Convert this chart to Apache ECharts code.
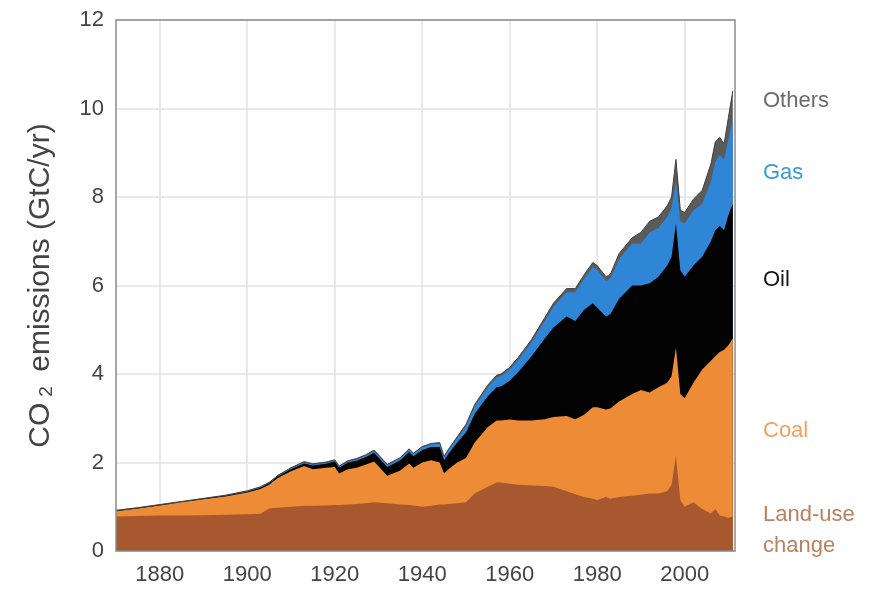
<!DOCTYPE html>
<html>
<head>
<meta charset="utf-8">
<title>CO2 emissions</title>
<script src="https://cdn.jsdelivr.net/npm/echarts@6/dist/echarts.min.js"></script>
<style>
  html, body { margin: 0; padding: 0; background: #fff; }
  #chart { width: 881px; height: 592px; }
</style>
</head>
<body>
<div id="chart"></div>
<script>
// years (irregular steps, denser where the curve moves)
const years = [1870, 1875, 1880, 1885, 1890, 1895, 1900, 1903, 1905, 1907, 1910, 1913, 1915, 1918, 1920,
  1921, 1923, 1925, 1927, 1929, 1932, 1935, 1937, 1938, 1940, 1942, 1944, 1945, 1946, 1948,
  1950, 1952, 1955, 1957, 1958, 1960, 1962, 1965, 1968, 1970, 1973, 1975, 1977, 1979, 1980,
  1982, 1983, 1985, 1988, 1990, 1992, 1994, 1996, 1997, 1998, 1999, 2000, 2002, 2004, 2006,
  2007, 2008, 2009, 2010, 2011];

// upper edge of each band (cumulative GtC/yr)
const landUseTop = [.78, .79, .80, .80, .81, .82, .83, .84, .96, .98, 1.00, 1.02, 1.02, 1.03, 1.04,
  1.04, 1.05, 1.06, 1.08, 1.10, 1.08, 1.05, 1.04, 1.03, 1.00, 1.02, 1.05, 1.05, 1.06, 1.08,
  1.10, 1.30, 1.45, 1.55, 1.55, 1.52, 1.50, 1.48, 1.47, 1.45, 1.35, 1.28, 1.22, 1.18, 1.15,
  1.22, 1.18, 1.22, 1.25, 1.27, 1.30, 1.30, 1.35, 1.50, 2.15, 1.15, 1.00, 1.10, 0.95, 0.85,
  0.95, 0.80, 0.78, 0.75, 0.78];
const coalTop = [.90, .96, 1.03, 1.10, 1.17, 1.23, 1.32, 1.40, 1.50, 1.65, 1.80, 1.92, 1.85, 1.88, 1.90,
  1.75, 1.85, 1.88, 1.95, 2.02, 1.70, 1.82, 1.98, 1.88, 2.00, 2.05, 2.00, 1.75, 1.85, 2.00,
  2.10, 2.45, 2.80, 2.95, 2.95, 2.97, 2.95, 2.95, 2.98, 3.03, 3.05, 2.98, 3.08, 3.25, 3.25,
  3.20, 3.22, 3.38, 3.55, 3.64, 3.58, 3.70, 3.80, 3.95, 4.60, 3.55, 3.45, 3.80, 4.10, 4.30,
  4.40, 4.50, 4.55, 4.65, 4.80];
const oilTop = [.91, .97, 1.04, 1.11, 1.18, 1.25, 1.34, 1.43, 1.53, 1.69, 1.85, 1.98, 1.93, 1.97, 2.02,
  1.88, 2.00, 2.04, 2.12, 2.22, 1.90, 2.05, 2.24, 2.14, 2.28, 2.35, 2.35, 2.05, 2.20, 2.45,
  2.68, 3.10, 3.50, 3.70, 3.72, 3.85, 4.05, 4.40, 4.80, 5.05, 5.30, 5.20, 5.45, 5.60, 5.50,
  5.30, 5.35, 5.70, 6.00, 6.00, 6.05, 6.20, 6.45, 6.65, 7.40, 6.35, 6.20, 6.45, 6.65, 7.00,
  7.25, 7.35, 7.25, 7.60, 7.85];
const gasTop = [.91, .97, 1.04, 1.11, 1.18, 1.25, 1.35, 1.44, 1.54, 1.70, 1.86, 2.00, 1.95, 1.99, 2.04,
  1.90, 2.02, 2.07, 2.15, 2.26, 1.94, 2.09, 2.29, 2.19, 2.34, 2.41, 2.42, 2.12, 2.28, 2.55,
  2.82, 3.27, 3.70, 3.92, 3.95, 4.10, 4.32, 4.72, 5.20, 5.52, 5.85, 5.85, 6.15, 6.42, 6.35,
  6.10, 6.15, 6.60, 6.95, 6.95, 7.20, 7.30, 7.55, 7.75, 8.35, 7.45, 7.40, 7.70, 7.85, 8.35,
  8.80, 8.95, 8.85, 9.30, 9.75];
const othersTop = [.92, .98, 1.05, 1.12, 1.19, 1.26, 1.36, 1.45, 1.55, 1.71, 1.88, 2.02, 1.97, 2.01, 2.06,
  1.92, 2.04, 2.09, 2.17, 2.28, 1.96, 2.11, 2.31, 2.21, 2.36, 2.43, 2.45, 2.14, 2.30, 2.58,
  2.86, 3.31, 3.75, 3.97, 4.00, 4.15, 4.38, 4.78, 5.27, 5.60, 5.93, 5.93, 6.24, 6.52, 6.45,
  6.20, 6.25, 6.72, 7.08, 7.20, 7.45, 7.55, 7.80, 8.00, 8.85, 7.70, 7.65, 7.95, 8.15, 8.75,
  9.25, 9.35, 9.20, 9.80, 10.40];

const xTicks = [1880, 1900, 1920, 1940, 1960, 1980, 2000];

const font = 'Liberation Sans, Arial, sans-serif';

// each band is drawn as an area from zero up to its top; later series cover earlier ones
const band = (name, tops, color, edge) => ({
  name: name,
  type: 'line',
  data: years.map((y, i) => [y, tops[i]]),
  showSymbol: false,
  symbol: 'none',
  silent: true,
  lineStyle: { width: edge ? 1 : 0, color: edge || color },
  areaStyle: { color: color, opacity: 1 },
});

const chart = echarts.init(document.getElementById('chart'));
chart.setOption({
  animation: false,
  backgroundColor: '#fff',
  textStyle: { fontFamily: font },
  grid: {
    left: 116, right: 146, top: 20, bottom: 41,
    show: true, borderColor: '#8a8a8a', borderWidth: 1.5,
    z: 10,
  },
  xAxis: {
    type: 'value',
    min: 1870,
    max: 2011.5,
    axisLine: { show: false },
    axisTick: { show: false, customValues: xTicks },
    axisLabel: {
      customValues: xTicks,
      formatter: (v) => String(v),
      fontSize: 22,
      color: '#444',
      margin: 13,
    },
    splitLine: { show: true, lineStyle: { color: '#e2e2e2', width: 1.5 } },
  },
  yAxis: {
    type: 'value',
    min: 0,
    max: 12,
    interval: 2,
    axisLine: { show: false },
    axisTick: { show: false },
    axisLabel: { fontSize: 22, color: '#444', margin: 12 },
    splitLine: { show: true, lineStyle: { color: '#e2e2e2', width: 1.5 } },
    name: '{a|CO}{b|2}{a| emissions (GtC/yr)}',
    nameLocation: 'middle',
    nameGap: 60,
    nameTextStyle: {
      color: '#444',
      rich: {
        a: { fontSize: 30, color: '#444', fontFamily: font },
        b: { fontSize: 19, color: '#444', fontFamily: font, padding: [0, 6, 0, 6], verticalAlign: 'bottom' },
      },
    },
  },
  series: [
    band('Others', othersTop, '#5b5b5b', '#3f3f3f'),
    band('Gas', gasTop, '#2f86d6'),
    band('Oil', oilTop, '#030303'),
    band('Coal', coalTop, '#ee8b36'),
    band('Land-use change', landUseTop, '#a8582f'),
  ],
  graphic: [
    { type: 'text', left: 763, top: 90, style: { text: 'Others', fill: '#6a6a6a', font: '22px ' + font } },
    { type: 'text', left: 763, top: 162, style: { text: 'Gas', fill: '#3a9ad9', font: '22px ' + font } },
    { type: 'text', left: 763, top: 269, style: { text: 'Oil', fill: '#151515', font: '22px ' + font } },
    { type: 'text', left: 763, top: 420, style: { text: 'Coal', fill: '#f0a262', font: '22px ' + font } },
    { type: 'text', left: 763, top: 499, style: { text: 'Land-use\nchange', fill: '#bb8060', font: '22px ' + font, lineHeight: 31 } },
  ],
});
</script>
</body>
</html>
